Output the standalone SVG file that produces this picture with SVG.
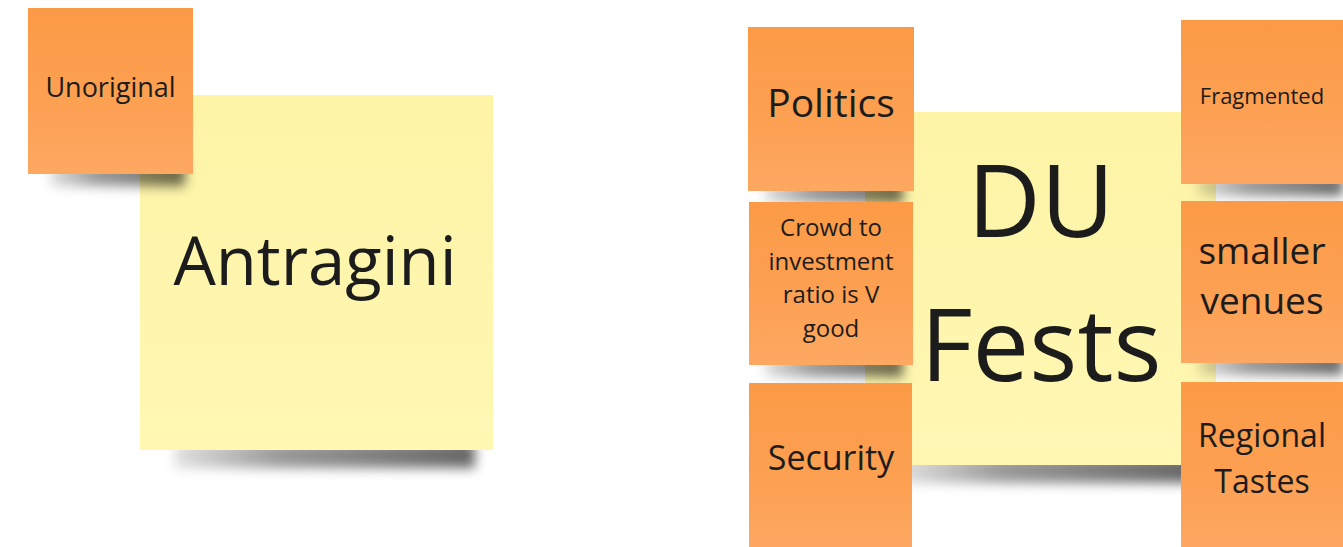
<svg xmlns="http://www.w3.org/2000/svg" width="1343" height="547" viewBox="0 0 1343 547">
<defs>
<linearGradient id="gOr" x1="0" y1="0" x2="0" y2="1">
<stop offset="0" stop-color="#fb9b47"/>
<stop offset="0.5" stop-color="#fc9f50"/>
<stop offset="1" stop-color="#fda862"/>
</linearGradient>
<linearGradient id="gYe" x1="0" y1="0" x2="0" y2="1">
<stop offset="0" stop-color="#fdf4a6"/>
<stop offset="1" stop-color="#fff7b3"/>
</linearGradient>
<linearGradient id="gSh" x1="0" y1="0" x2="1" y2="0">
<stop offset="0" stop-color="#000" stop-opacity="0.12"/>
<stop offset="0.35" stop-color="#000" stop-opacity="0.4"/>
<stop offset="1" stop-color="#000" stop-opacity="0.6"/>
</linearGradient>
<filter id="blur" x="-20%" y="-100%" width="140%" height="300%">
<feGaussianBlur stdDeviation="6"/>
</filter>
<style>
.or{fill:url(#gOr)}
.ye{fill:url(#gYe)}
.sh{fill:url(#gSh);filter:url(#blur)}
text{font-family:"Open Sans","Noto Sans","DejaVu Sans",sans-serif;fill:#1c1c1c;text-anchor:middle}
</style>
</defs>
<rect width="1343" height="547" fill="#ffffff"/>

<g id="antragini">
<rect class="sh" x="175" y="442" width="300" height="26"/>
<rect class="ye" x="140" y="95" width="353" height="355"/>
<text x="315" y="285" font-size="67">Antragini</text>
</g>

<g id="unoriginal">
<rect class="sh" x="50" y="164" width="135" height="22"/>
<rect class="or" x="28" y="8" width="165" height="166"/>
<text x="110.5" y="97" font-size="27">Unoriginal</text>
</g>

<g id="du-fests">
<rect class="sh" x="900" y="457" width="295" height="26"/>
<rect class="ye" x="865" y="112" width="351" height="353"/>
<text x="1041" y="237" font-size="101">DU</text>
<text x="1041" y="381" font-size="101">Fests</text>
</g>

<g id="politics">
<rect class="sh" x="765" y="183" width="138" height="20"/>
<rect class="or" x="748" y="27" width="166" height="164"/>
<text x="831" y="117" font-size="39">Politics</text>
</g>

<g id="crowd">
<rect class="sh" x="765" y="357" width="138" height="20"/>
<rect class="or" x="749" y="202" width="164" height="163"/>
<text x="831" y="236" font-size="24">Crowd to</text>
<text x="831" y="270" font-size="24">investment</text>
<text x="831" y="303" font-size="24">ratio is V</text>
<text x="831" y="337" font-size="24">good</text>
</g>

<g id="security">
<rect class="or" x="749" y="383" width="163" height="170"/>
<text x="831" y="470" font-size="34">Security</text>
</g>

<g id="fragmented">
<rect class="sh" x="1198" y="176" width="145" height="20"/>
<rect class="or" x="1181" y="20" width="165" height="164"/>
<text x="1262" y="104" font-size="22">Fragmented</text>
</g>

<g id="smaller-venues">
<rect class="sh" x="1198" y="355" width="145" height="20"/>
<rect class="or" x="1181" y="201" width="165" height="162"/>
<text x="1262" y="264" font-size="37">smaller</text>
<text x="1262" y="314" font-size="37">venues</text>
</g>

<g id="regional-tastes">
<rect class="or" x="1181" y="382" width="165" height="170"/>
<text x="1262" y="447" font-size="32">Regional</text>
<text x="1262" y="493" font-size="32">Tastes</text>
</g>

<g id="connectors"></g>
</svg>
